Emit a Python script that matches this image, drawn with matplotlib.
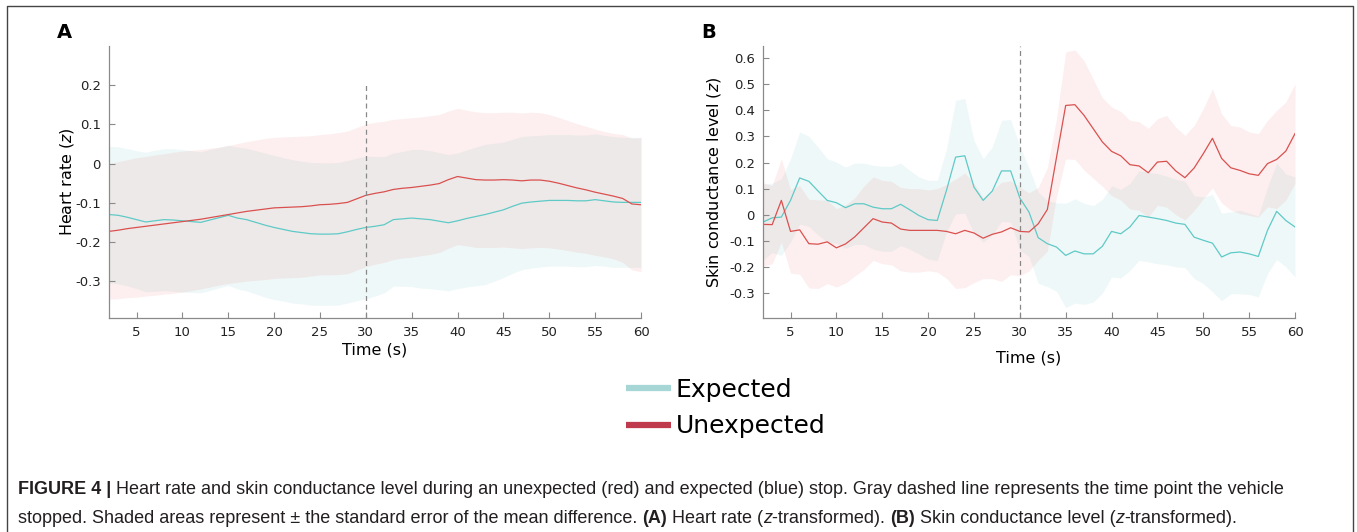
import matplotlib
matplotlib.use("Agg")
import matplotlib.pyplot as plt
from matplotlib.lines import Line2D
import numpy as np

plt.rcParams['font.family'] = ['DejaVu Sans']
plt.rcParams['axes.unicode_minus'] = False

# ---------------- data ----------------
time = list(range(2, 61))

# Panel A: heart rate (z)
hr_unexp = [-0.173, -0.170, -0.166, -0.163, -0.160, -0.157, -0.154, -0.151, -0.148, -0.145,
            -0.142, -0.138, -0.134, -0.130, -0.126, -0.122, -0.119, -0.116, -0.113, -0.112,
            -0.111, -0.110, -0.108, -0.105, -0.104, -0.102, -0.099, -0.090, -0.081, -0.076,
            -0.072, -0.066, -0.063, -0.061, -0.058, -0.055, -0.051, -0.041, -0.033, -0.037,
            -0.041, -0.042, -0.042, -0.041, -0.042, -0.044, -0.042, -0.042, -0.045, -0.050,
            -0.056, -0.062, -0.067, -0.073, -0.078, -0.083, -0.089, -0.103, -0.105]
hr_unexp_se = [0.173, 0.175, 0.176, 0.178, 0.178, 0.179, 0.179, 0.180, 0.180, 0.179,
               0.178, 0.177, 0.176, 0.176, 0.177, 0.178, 0.179, 0.180, 0.180, 0.180,
               0.180, 0.180, 0.179, 0.179, 0.180, 0.181, 0.182, 0.182, 0.182, 0.181,
               0.180, 0.179, 0.178, 0.178, 0.177, 0.177, 0.176, 0.175, 0.174, 0.173,
               0.173, 0.172, 0.172, 0.172, 0.173, 0.173, 0.173, 0.172, 0.170, 0.168,
               0.166, 0.164, 0.162, 0.161, 0.160, 0.160, 0.163, 0.168, 0.171]
hr_exp = [-0.130, -0.132, -0.137, -0.143, -0.149, -0.146, -0.143, -0.144, -0.146, -0.148,
          -0.150, -0.144, -0.138, -0.132, -0.139, -0.143, -0.150, -0.157, -0.163, -0.168,
          -0.173, -0.176, -0.179, -0.180, -0.180, -0.179, -0.174, -0.168, -0.163, -0.160,
          -0.156, -0.143, -0.141, -0.139, -0.141, -0.143, -0.147, -0.151, -0.146, -0.140,
          -0.135, -0.130, -0.124, -0.118, -0.109, -0.101, -0.098, -0.096, -0.094, -0.094,
          -0.094, -0.095, -0.095, -0.092, -0.095, -0.098, -0.099, -0.099, -0.099]
hr_exp_se = [0.174, 0.175, 0.175, 0.176, 0.178, 0.180, 0.181, 0.182, 0.182, 0.181,
             0.180, 0.180, 0.179, 0.179, 0.181, 0.182, 0.183, 0.184, 0.184, 0.183,
             0.183, 0.182, 0.182, 0.182, 0.182, 0.182, 0.182, 0.182, 0.182, 0.178,
             0.174, 0.170, 0.172, 0.175, 0.177, 0.176, 0.175, 0.174, 0.173, 0.175,
             0.177, 0.179, 0.176, 0.173, 0.171, 0.170, 0.169, 0.168, 0.168, 0.168,
             0.168, 0.168, 0.168, 0.168, 0.167, 0.167, 0.166, 0.166, 0.166]

# Panel B: skin conductance level (z)
scl_unexp = [-0.037, -0.038, 0.055, -0.064, -0.058, -0.111, -0.113, -0.104, -0.127, -0.112,
             -0.085, -0.050, -0.015, -0.028, -0.032, -0.055, -0.060, -0.060, -0.060, -0.060,
             -0.064, -0.073, -0.060, -0.070, -0.090, -0.075, -0.066, -0.050, -0.064, -0.066,
             -0.035, 0.020, 0.220, 0.419, 0.422, 0.381, 0.330, 0.279, 0.243, 0.226,
             0.192, 0.187, 0.161, 0.202, 0.205, 0.168, 0.142, 0.179, 0.234, 0.293,
             0.216, 0.180, 0.170, 0.157, 0.151, 0.196, 0.212, 0.244, 0.311]
scl_unexp_se = [0.160, 0.150, 0.160, 0.160, 0.170, 0.170, 0.170, 0.160, 0.150, 0.150,
                0.150, 0.160, 0.160, 0.160, 0.160, 0.160, 0.160, 0.160, 0.155, 0.160,
                0.180, 0.210, 0.220, 0.190, 0.155, 0.170, 0.190, 0.180, 0.170, 0.150,
                0.140, 0.160, 0.150, 0.205, 0.210, 0.210, 0.190, 0.170, 0.170, 0.170,
                0.170, 0.170, 0.170, 0.166, 0.176, 0.168, 0.162, 0.163, 0.173, 0.190,
                0.171, 0.162, 0.166, 0.160, 0.160, 0.166, 0.188, 0.188, 0.191]
scl_exp = [-0.028, -0.012, -0.009, 0.055, 0.141, 0.128, 0.091, 0.055, 0.046, 0.027,
           0.042, 0.042, 0.029, 0.023, 0.023, 0.040, 0.019, -0.003, -0.019, -0.022,
           0.093, 0.221, 0.226, 0.106, 0.055, 0.091, 0.168, 0.168, 0.064, 0.010,
           -0.088, -0.111, -0.124, -0.156, -0.139, -0.150, -0.150, -0.121, -0.064, -0.073,
           -0.047, -0.003, -0.009, -0.015, -0.022, -0.032, -0.037, -0.086, -0.098, -0.109,
           -0.162, -0.146, -0.143, -0.150, -0.160, -0.060, 0.013, -0.022, -0.047]
scl_exp_se = [0.145, 0.133, 0.147, 0.160, 0.177, 0.173, 0.169, 0.160, 0.156, 0.156,
              0.156, 0.156, 0.161, 0.163, 0.163, 0.158, 0.151, 0.148, 0.151, 0.154,
              0.160, 0.218, 0.220, 0.179, 0.160, 0.169, 0.194, 0.197, 0.200, 0.170,
              0.175, 0.165, 0.170, 0.200, 0.200, 0.194, 0.185, 0.180, 0.175, 0.170,
              0.167, 0.172, 0.172, 0.173, 0.170, 0.168, 0.166, 0.159, 0.166, 0.187,
              0.168, 0.157, 0.160, 0.156, 0.155, 0.166, 0.185, 0.178, 0.192]

series_labels = ["Expected", "Unexpected"]
stop_time = 30
xticks = [5, 10, 15, 20, 25, 30, 35, 40, 45, 50, 55, 60]
yticks_a = [0.2, 0.1, 0, -0.1, -0.2, -0.3]
yticklabels_a = ["0.2", "0.1", "0", "-0.1", "-0.2", "-0.3"]
yticks_b = [0.6, 0.5, 0.4, 0.3, 0.2, 0.1, 0, -0.1, -0.2, -0.3]
yticklabels_b = ["0.6", "0.5", "0.4", "0.3", "0.2", "0.1", "0", "-0.1", "-0.2", "-0.3"]

# ---------------- style ----------------
RED = "#d9514f"
TEAL = "#5ecac6"
RED_FILL = (0.92, 0.32, 0.32)
TEAL_FILL = (0.40, 0.76, 0.74)
LEG_TEAL = "#a6d7d6"
LEG_RED = "#bf3a4c"
SPINE = "#8a8a8a"

W, H = 1357, 532
fig = plt.figure(figsize=(W / 100, H / 100), dpi=100)


def px_axes(l, r, t, b):
    return fig.add_axes([l / W, 1 - b / H, (r - l) / W, (b - t) / H])


def style_axes(ax, ylim, yticks, yticklabels):
    ax.set_xlim(2, 60)
    ax.set_ylim(*ylim)
    for s in ("top", "right"):
        ax.spines[s].set_visible(False)
    for s in ("left", "bottom"):
        ax.spines[s].set_color(SPINE)
        ax.spines[s].set_linewidth(0.9)
    ax.set_xticks(xticks)
    ax.set_xticklabels([str(v) for v in xticks])
    ax.set_yticks(yticks)
    ax.set_yticklabels(yticklabels)
    ax.tick_params(direction="in", length=4, width=0.8, color=SPINE,
                   labelsize=9.5, labelcolor="#222222")
    ax.tick_params(axis="y", pad=6)
    ax.tick_params(axis="x", pad=6)


def draw_panel(ax, exp, exp_se, unexp, unexp_se):
    t = np.array(time)
    e = np.array(exp); es = np.array(exp_se)
    u = np.array(unexp); us = np.array(unexp_se)
    ax.fill_between(t, e - es, e + es, color=TEAL_FILL, alpha=0.10, lw=0)
    ax.fill_between(t, u - us, u + us, color=RED_FILL, alpha=0.09, lw=0)
    ax.plot(t, e, color=TEAL, lw=0.9)
    ax.plot(t, u, color=RED, lw=0.9)


# Panel A
axA = px_axes(109, 641, 46, 318)
style_axes(axA, (-0.394, 0.30), yticks_a, yticklabels_a)
draw_panel(axA, hr_exp, hr_exp_se, hr_unexp, hr_unexp_se)
axA.plot([stop_time, stop_time], [-0.394, 0.2], color="#888888", lw=0.9, ls=(0, (4, 3)))
axA.set_xlabel("Time (s)", fontsize=11.5, labelpad=2)
axA.set_ylabel("Heart rate ($z$)", fontsize=11.5, labelpad=-1)

# Panel B
axB = px_axes(763, 1295, 46, 318)
style_axes(axB, (-0.396, 0.647), yticks_b, yticklabels_b)
draw_panel(axB, scl_exp, scl_exp_se, scl_unexp, scl_unexp_se)
axB.axvline(stop_time, color="#888888", lw=0.9, ls=(0, (4, 3)))
axB.set_xlabel("Time (s)", fontsize=11.5, labelpad=8)
axB.set_ylabel("Skin conductance level ($z$)", fontsize=11.5, labelpad=4)

# Panel letters
fig.text(57 / W, 1 - 33 / H, "A", fontsize=14, fontweight="bold", va="center", ha="left")
fig.text(701 / W, 1 - 33 / H, "B", fontsize=14, fontweight="bold", va="center", ha="left")

# Legend
handles = [Line2D([], [], color=LEG_TEAL, lw=4.5, solid_capstyle="butt"),
           Line2D([], [], color=LEG_RED, lw=4.5, solid_capstyle="butt")]
fig.legend(handles, series_labels, loc="upper left", bbox_to_anchor=(626 / W, 1 - 378 / H),
           frameon=False, fontsize=18, handlelength=1.8, handletextpad=0.2,
           labelspacing=0.5, borderpad=0, borderaxespad=0)

# Figure border (left, top, right)
border = Line2D([7 / W, 7 / W, 1353 / W, 1353 / W], [0, 1 - 5.5 / H, 1 - 5.5 / H, 0],
                transform=fig.transFigure, color="#444444", lw=1.0)
fig.add_artist(border)

# Caption with mixed formatting
CAP_FONT = ["Liberation Sans", "DejaVu Sans"]
fig.canvas.draw()
renderer = fig.canvas.get_renderer()

line1 = [
    ("FIGURE 4 | ", "bold", "normal"),
    ("Heart rate and skin conductance level during an unexpected (red) and expected (blue) stop. "
     "Gray dashed line represents the time point the vehicle", "normal", "normal"),
]
line2 = [
    ("stopped. Shaded areas represent \u00b1 the standard error of the mean difference. ", "normal", "normal"),
    ("(A)", "bold", "normal"),
    (" Heart rate (", "normal", "normal"),
    ("z", "normal", "italic"),
    ("-transformed). ", "normal", "normal"),
    ("(B)", "bold", "normal"),
    (" Skin conductance level (", "normal", "normal"),
    ("z", "normal", "italic"),
    ("-transformed).", "normal", "normal"),
]


def rich_line(x_px, y_px, runs, size):
    x = x_px
    for txt, weight, style in runs:
        tt = fig.text(x / W, 1 - y_px / H, txt, fontsize=size, family=CAP_FONT,
                      fontweight=weight, fontstyle=style, va="baseline", ha="left",
                      color="#231f20")
        bb = tt.get_window_extent(renderer=renderer)
        x += bb.width
    return x


CAP_SIZE = 13.0
rich_line(18, 494, line1, CAP_SIZE)
rich_line(18, 523, line2, CAP_SIZE)

fig.savefig("out.png", dpi=100)
